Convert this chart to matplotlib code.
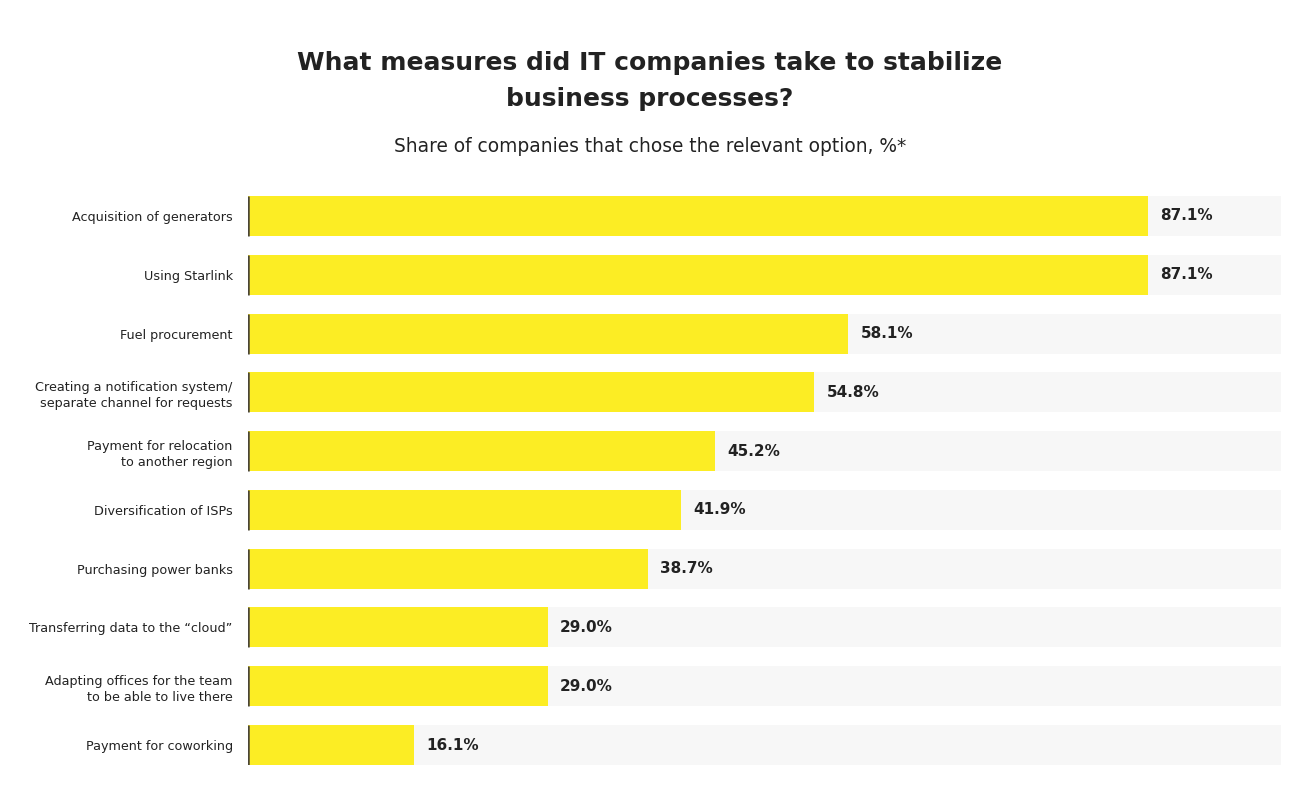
import matplotlib.pyplot as plt
import numpy as np

plt.rcParams['font.family'] = ['DejaVu Sans']

measures = [
    'Acquisition of generators',
    'Using Starlink',
    'Fuel procurement',
    'Creating a notification system/\nseparate channel for requests',
    'Payment for relocation\nto another region',
    'Diversification of ISPs',
    'Purchasing power banks',
    'Transferring data to the \u201ccloud\u201d',
    'Adapting offices for the team\nto be able to live there',
    'Payment for coworking',
]
shares = [87.1, 87.1, 58.1, 54.8, 45.2, 41.9, 38.7, 29.0, 29.0, 16.1]

YELLOW = '#fced24'
GREY = '#f7f7f7'
TEXT = '#222222'

figure = plt.figure(figsize=(13, 8.09), dpi=100)
axes = figure.add_axes([248 / 1300, 1 - 765 / 809, 1033 / 1300, (765 - 196) / 809])

y = np.arange(len(measures))
h = 0.68
axes.barh(y, [100] * len(y), height=h, color=GREY, zorder=1)
bars = axes.barh(y, shares, height=h, color=YELLOW, zorder=2)
axes.vlines([0] * len(y), y - h / 2, y + h / 2, color='#4a4536', linewidth=1.8, zorder=3)

for yi, v in zip(y, shares):
    axes.text(v + 1.2, yi, '{:.1f}%'.format(v), va='center', ha='left',
              fontsize=11, fontweight='bold', color=TEXT, zorder=4)

axes.set_xlim(0, 100)
axes.set_ylim(len(y) - 1 + h / 2, -h / 2)
axes.set_yticks(y)
axes.set_yticklabels(measures, fontsize=9.2, color=TEXT, linespacing=1.3)
axes.tick_params(axis='y', length=0, pad=11)
axes.set_xticks([])
for s in axes.spines.values():
    s.set_visible(False)

figure.text(0.5, 1 - 81 / 809, 'What measures did IT companies take to stabilize\nbusiness processes?',
            ha='center', va='center', fontsize=18, fontweight='bold', color=TEXT, linespacing=1.6)
figure.text(0.5, 1 - 147 / 809, 'Share of companies that chose the relevant option, %*',
            ha='center', va='center', fontsize=13.4, color=TEXT)

figure.savefig('out.png', dpi=100, facecolor='white')
